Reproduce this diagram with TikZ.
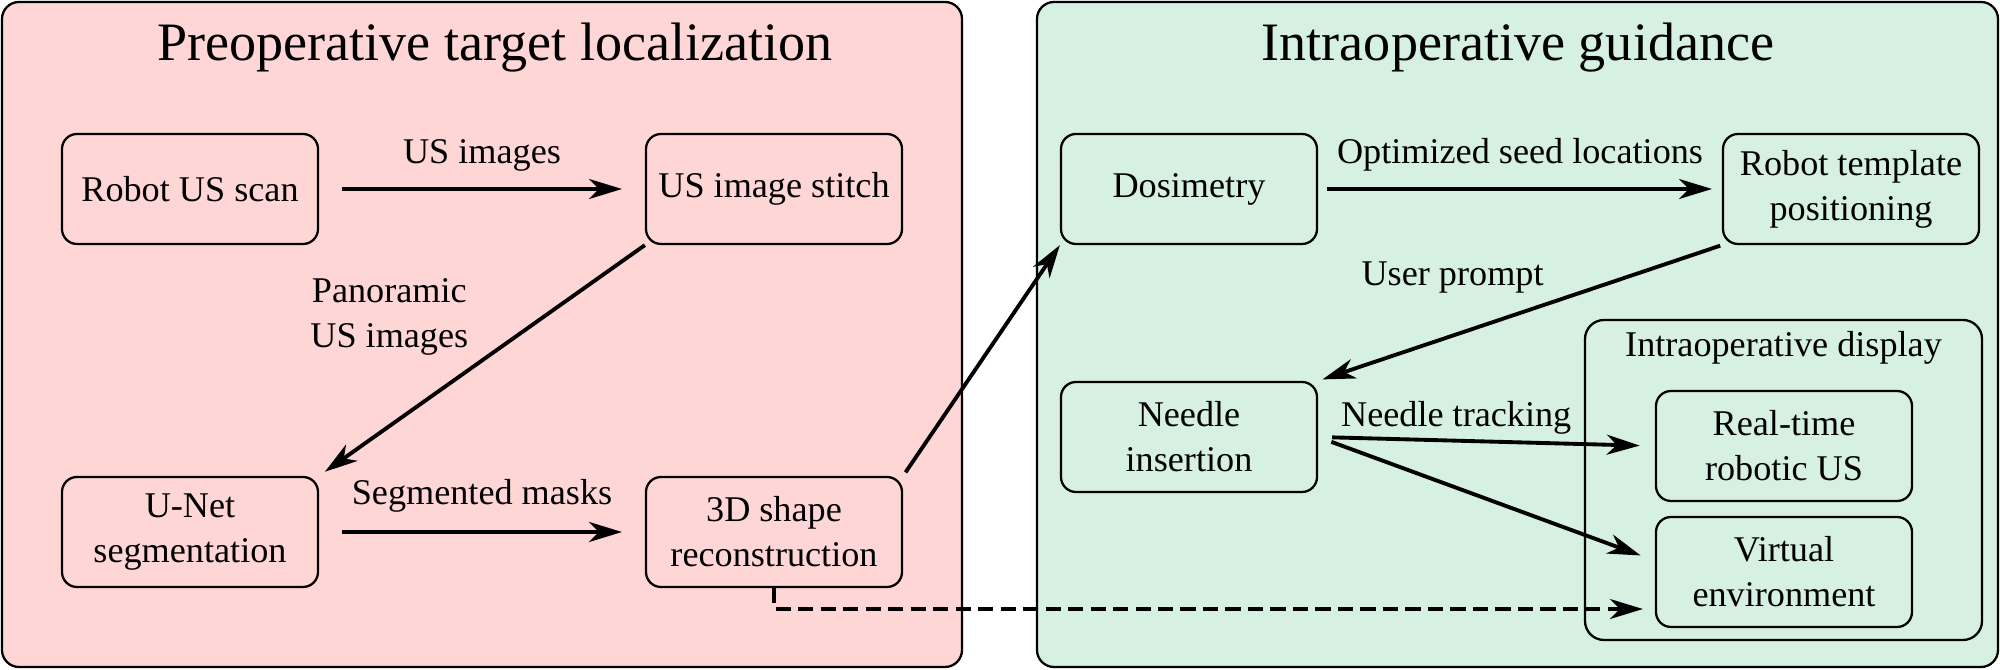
\documentclass[tikz,border=0pt]{standalone}
\usepackage{fontspec}
\setmainfont{Liberation Serif}
\usetikzlibrary{arrows.meta, calc}
\definecolor{prepink}{RGB}{255,214,214}
\definecolor{intragreen}{RGB}{214,241,225}

\begin{document}
\begin{tikzpicture}[
        >={Stealth[length=3.3mm, width=2mm, inset=1mm]},
        every node/.style={font=\fontsize{10.3}{12.8}\selectfont, align=center},
        box/.style={draw, line width=0.65pt, rounded corners=0.15cm, minimum width=2.56cm, minimum height=1.1cm, inner sep=2pt},
        panel/.style={draw, line width=0.65pt, rounded corners=0.17cm},
        flow/.style={->, line width=1.1pt},
        title/.style={font=\fontsize{15.4}{18}\selectfont}
    ]
        \useasboundingbox (0,0) rectangle (20,6.7);

        % Two background panels
        \draw[panel, fill=prepink] (0.02,0.03) rectangle (9.62,6.68);
        \draw[panel, fill=intragreen] (10.37,0.03) rectangle (19.98,6.68);
        \node[title] (pretitle) at (4.95,6.22) {Preoperative target localization};
        \node[title] (intratitle) at (15.18,6.22) {Intraoperative guidance};

        % Preoperative steps
        \node[box] (scan) at (1.90,4.81) {Robot US scan};
        \node[box] (stitch) at (7.74,4.81) {US image stitch};
        \node[box] (unet) at (1.90,1.38) {U-Net\\segmentation};
        \node[box] (recon) at (7.74,1.38) {3D shape\\reconstruction};

        % Intraoperative steps
        \node[box] (dosi) at (11.89,4.81) {Dosimetry};
        \node[box] (template) at (18.51,4.81) {Robot template\\positioning};
        \node[box] (needle) at (11.89,2.33) {Needle\\insertion};
        \node[box, rounded corners=0.19cm, minimum width=3.97cm, minimum height=3.2cm] (display) at (17.835,1.90) {};
        \node[below] (displaytitle) at (display.north) {Intraoperative display};
        \node[box] (realtime) at (17.84,2.24) {Real-time\\robotic US};
        \node[box] (virtual) at (17.84,0.98) {Virtual\\environment};

        % Links
        \draw[flow, shorten <=6.5pt, shorten >=6.5pt] (scan) -- node[above=1.2pt] {US images} (stitch);
        \draw[flow, shorten >=2pt] (stitch.south west) -- node[pos=0.31, left=0.62cm] {Panoramic\\US images} (unet.north east);
        \draw[flow, shorten <=6.5pt, shorten >=6.5pt] (unet) -- node[above=1.7pt] {Segmented masks} (recon);
        \draw[flow, shorten <=1.2pt] (recon.north east) -- (dosi.south west);
        \draw[flow, shorten <=2.5pt, shorten >=2.8pt] (dosi) -- node[above=1.2pt] {Optimized seed locations} (template);
        \draw[flow, shorten <=0.5pt, shorten >=1.3pt] (template.south west) -- node[pos=0.667, above=0.29cm] {User prompt} (needle.north east);
        \draw[flow, shorten <=4pt, shorten >=4.3pt] (needle.east) -- node[pos=0.41, above=-2pt] {Needle tracking} (realtime.west);
        \draw[flow, shorten <=4pt, shorten >=4.3pt] (needle.east) -- (virtual.175);
        \draw[flow, dash pattern=on 4.3pt off 2.1pt, shorten >=3.4pt] (recon.south) |- (virtual.196);
    \end{tikzpicture}
\end{document}
